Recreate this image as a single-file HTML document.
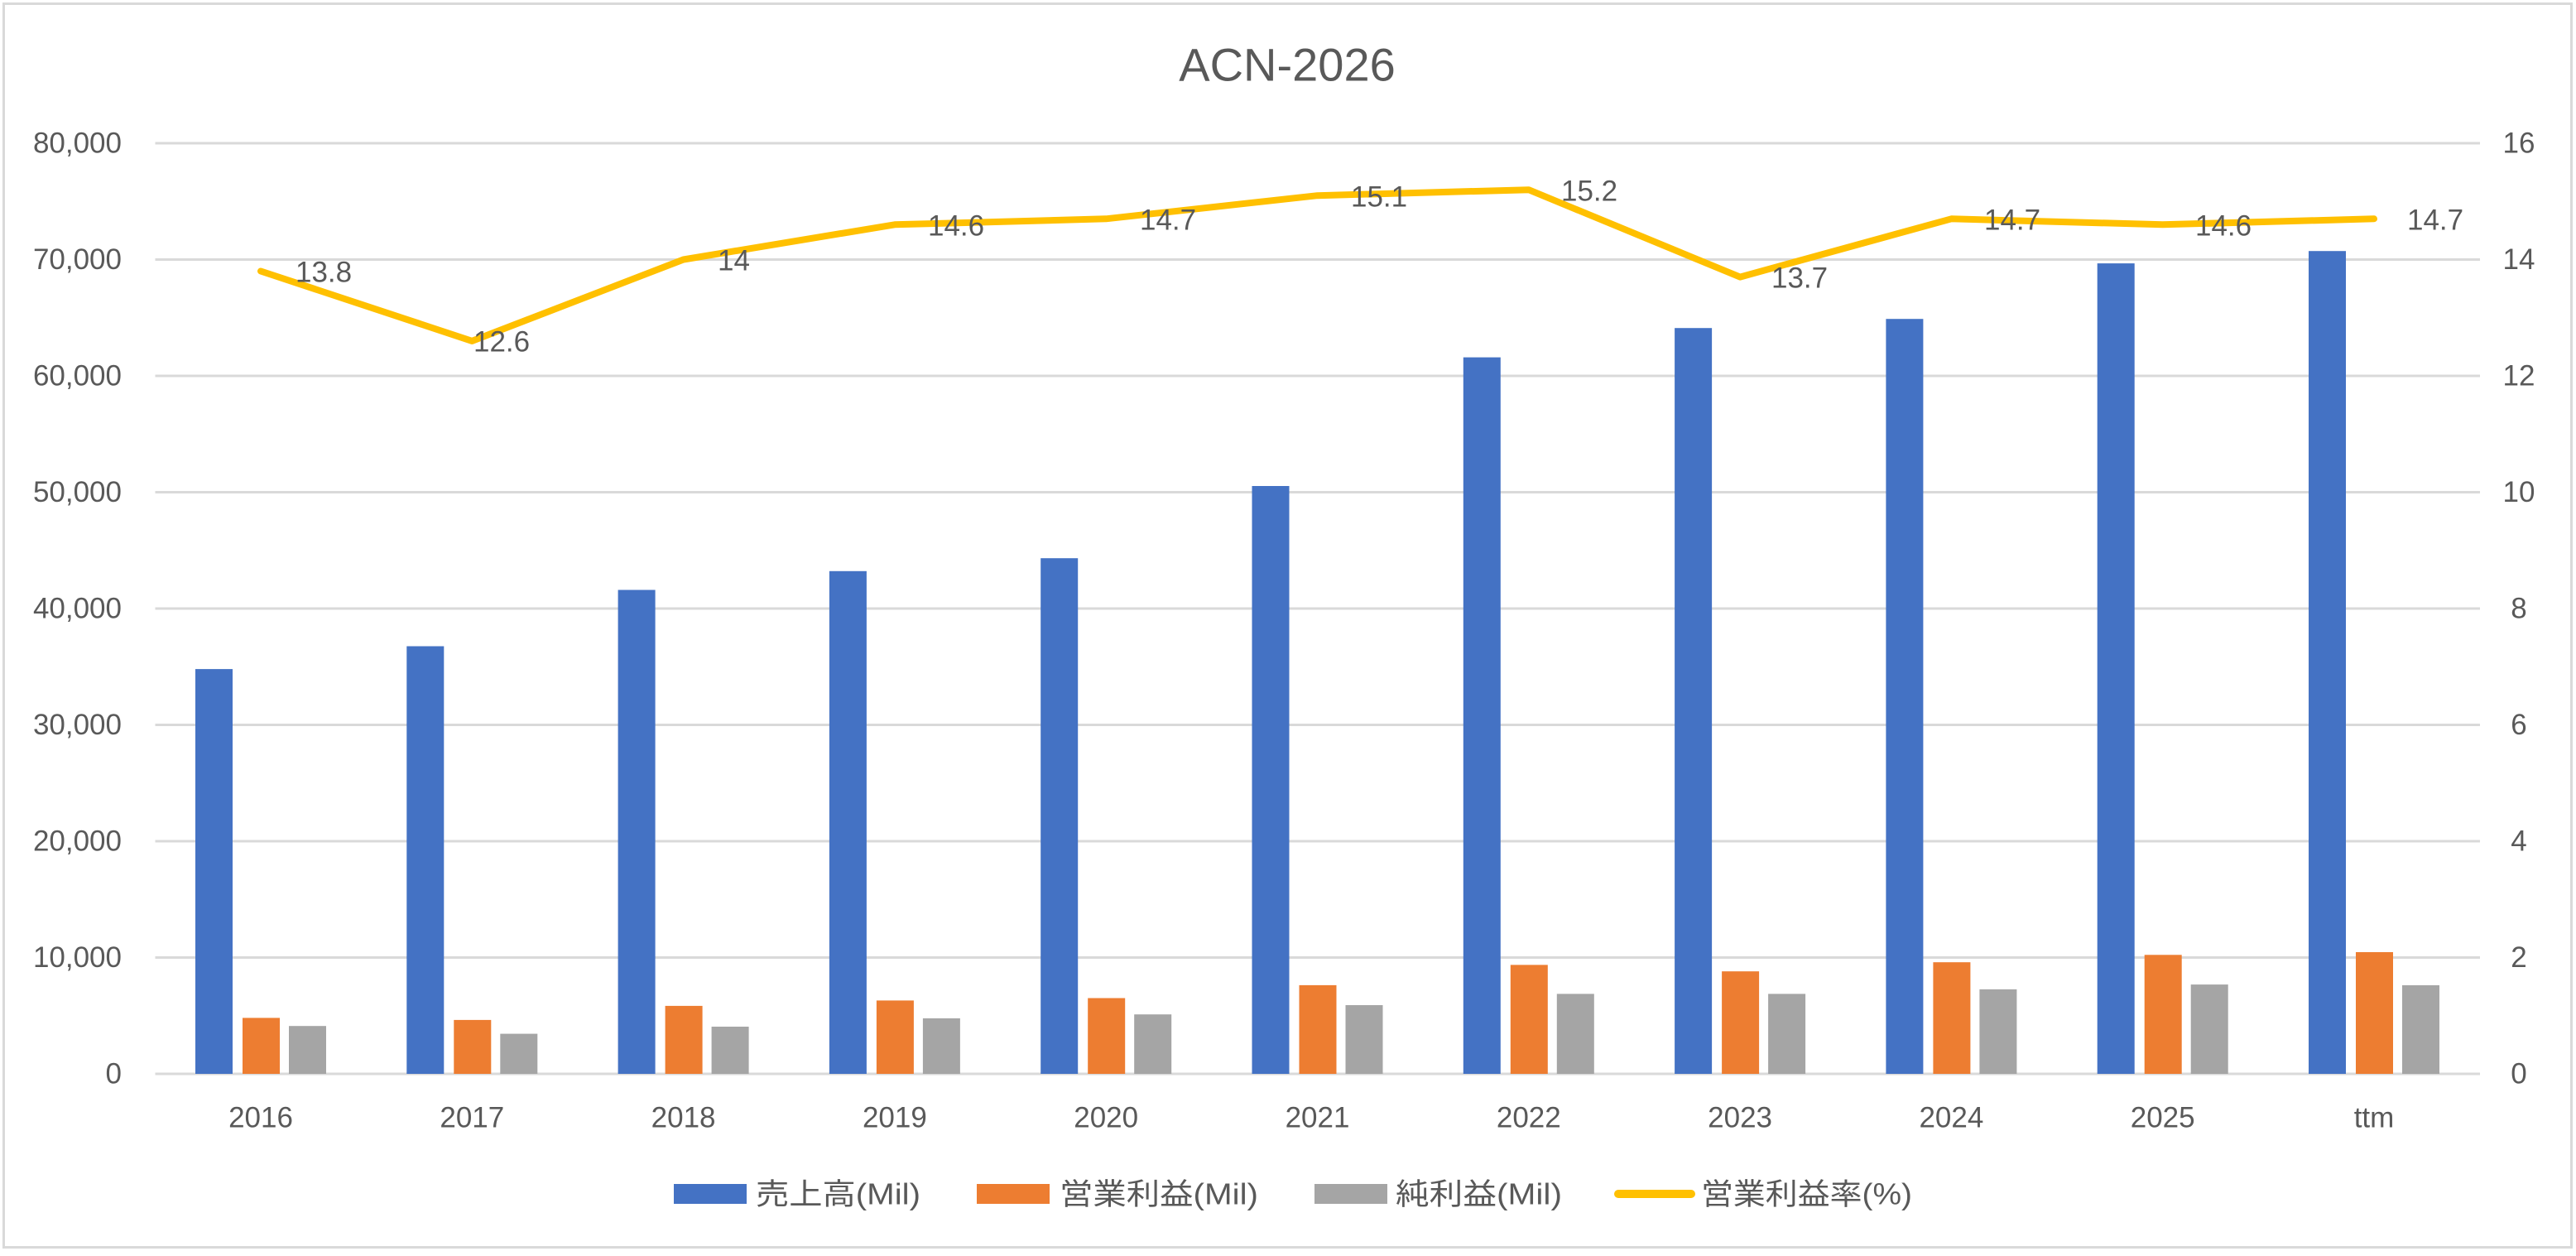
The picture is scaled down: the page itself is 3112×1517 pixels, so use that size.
<!DOCTYPE html>
<html><head><meta charset="utf-8"><style>
html,body{margin:0;padding:0;background:#fff}
svg{display:block}
text{font-family:"Liberation Sans","Noto Sans CJK JP",sans-serif;fill:#595959}
</style></head><body>
<svg width="3112" height="1517" viewBox="0 0 3112 1517" xmlns="http://www.w3.org/2000/svg">
<rect x="0" y="0" width="3112" height="1517" fill="#fff"/>
<rect x="4.5" y="4.5" width="3102" height="1502" fill="none" stroke="#d9d9d9" stroke-width="3"/>
<text x="1555" y="78" font-size="56" text-anchor="middle" dominant-baseline="central">ACN-2026</text>
<g stroke="#d9d9d9" stroke-width="3">
<line x1="187.5" x2="2996" y1="1297" y2="1297"/>
<line x1="187.5" x2="2996" y1="1156.5" y2="1156.5"/>
<line x1="187.5" x2="2996" y1="1016" y2="1016"/>
<line x1="187.5" x2="2996" y1="875.5" y2="875.5"/>
<line x1="187.5" x2="2996" y1="735" y2="735"/>
<line x1="187.5" x2="2996" y1="594.5" y2="594.5"/>
<line x1="187.5" x2="2996" y1="454" y2="454"/>
<line x1="187.5" x2="2996" y1="313.5" y2="313.5"/>
<line x1="187.5" x2="2996" y1="173" y2="173"/>
</g>
<g font-size="35" text-anchor="end" dominant-baseline="central">
<text x="147" y="1297">0</text>
<text x="147" y="1156.5">10,000</text>
<text x="147" y="1016">20,000</text>
<text x="147" y="875.5">30,000</text>
<text x="147" y="735">40,000</text>
<text x="147" y="594.5">50,000</text>
<text x="147" y="454">60,000</text>
<text x="147" y="313.5">70,000</text>
<text x="147" y="173">80,000</text>
</g>
<g font-size="35" text-anchor="middle" dominant-baseline="central">
<text x="3043" y="1297">0</text>
<text x="3043" y="1156.5">2</text>
<text x="3043" y="1016">4</text>
<text x="3043" y="875.5">6</text>
<text x="3043" y="735">8</text>
<text x="3043" y="594.5">10</text>
<text x="3043" y="454">12</text>
<text x="3043" y="313.5">14</text>
<text x="3043" y="173">16</text>
</g>
<g fill="#4472c4">
<rect x="236" y="808.1" width="45" height="488.9"/>
<rect x="491.3" y="780.5" width="45" height="516.5"/>
<rect x="746.6" y="712.5" width="45" height="584.5"/>
<rect x="1001.9" y="689.8" width="45" height="607.2"/>
<rect x="1257.2" y="674.2" width="45" height="622.8"/>
<rect x="1512.5" y="587" width="45" height="710"/>
<rect x="1767.8" y="431.6" width="45" height="865.4"/>
<rect x="2023.1" y="396.2" width="45" height="900.8"/>
<rect x="2278.4" y="385.2" width="45" height="911.8"/>
<rect x="2533.7" y="318.1" width="45" height="978.9"/>
<rect x="2789" y="303.2" width="45" height="993.8"/>
</g>
<g fill="#ed7d31">
<rect x="293" y="1229.4" width="45" height="67.6"/>
<rect x="548.3" y="1231.9" width="45" height="65.1"/>
<rect x="803.6" y="1214.9" width="45" height="82.1"/>
<rect x="1058.9" y="1208.4" width="45" height="88.6"/>
<rect x="1314.2" y="1205.5" width="45" height="91.5"/>
<rect x="1569.5" y="1189.9" width="45" height="107.1"/>
<rect x="1824.8" y="1165.4" width="45" height="131.6"/>
<rect x="2080.1" y="1173.2" width="45" height="123.8"/>
<rect x="2335.4" y="1162.2" width="45" height="134.8"/>
<rect x="2590.7" y="1153.3" width="45" height="143.7"/>
<rect x="2846" y="1150" width="45" height="147"/>
</g>
<g fill="#a5a5a5">
<rect x="349" y="1239.2" width="45" height="57.8"/>
<rect x="604.3" y="1248.6" width="45" height="48.4"/>
<rect x="859.6" y="1240" width="45" height="57"/>
<rect x="1114.9" y="1229.9" width="45" height="67.1"/>
<rect x="1370.2" y="1225.2" width="45" height="71.8"/>
<rect x="1625.5" y="1214" width="45" height="83"/>
<rect x="1880.8" y="1200.4" width="45" height="96.6"/>
<rect x="2136.1" y="1200.4" width="45" height="96.6"/>
<rect x="2391.4" y="1194.9" width="45" height="102.1"/>
<rect x="2646.7" y="1189.1" width="45" height="107.9"/>
<rect x="2902" y="1190" width="45" height="107"/>
</g>
<polyline fill="none" stroke="#ffc000" stroke-width="8" stroke-linejoin="round" stroke-linecap="round"
points="315,327.5 570.3,411.9 825.6,313.5 1080.9,271.3 1336.2,264.3 1591.5,236.2 1846.8,229.2 2102.1,334.6 2357.4,264.3 2612.7,271.3 2868,264.3"/>
<g font-size="35" dominant-baseline="central">
<text x="357" y="329" fill="#404040">13.8</text>
<text x="572" y="413" fill="#404040">12.6</text>
<text x="867" y="315" fill="#404040">14</text>
<text x="1121" y="273" fill="#404040">14.6</text>
<text x="1377" y="266" fill="#404040">14.7</text>
<text x="1632" y="238" fill="#404040">15.1</text>
<text x="1886" y="231" fill="#404040">15.2</text>
<text x="2140" y="336" fill="#404040">13.7</text>
<text x="2397" y="266" fill="#404040">14.7</text>
<text x="2652" y="273" fill="#404040">14.6</text>
<text x="2908" y="266" fill="#404040">14.7</text>
</g>
<g font-size="35" text-anchor="middle" dominant-baseline="central">
<text x="315" y="1350">2016</text>
<text x="570.3" y="1350">2017</text>
<text x="825.6" y="1350">2018</text>
<text x="1080.9" y="1350">2019</text>
<text x="1336.2" y="1350">2020</text>
<text x="1591.5" y="1350">2021</text>
<text x="1846.8" y="1350">2022</text>
<text x="2102.1" y="1350">2023</text>
<text x="2357.4" y="1350">2024</text>
<text x="2612.7" y="1350">2025</text>
<text x="2868" y="1350">ttm</text>
</g>
<rect x="814" y="1430" width="88" height="24" fill="#4472c4"/>
<rect x="1180" y="1430" width="88" height="24" fill="#ed7d31"/>
<rect x="1588" y="1430" width="88" height="24" fill="#a5a5a5"/>
<line x1="1955" x2="2043" y1="1442" y2="1442" stroke="#ffc000" stroke-width="10" stroke-linecap="round"/>
<g font-size="36" dominant-baseline="central">
<text x="913" y="1442" textLength="199" lengthAdjust="spacingAndGlyphs">売上高(Mil)</text>
<text x="1280" y="1442" textLength="240" lengthAdjust="spacingAndGlyphs">営業利益(Mil)</text>
<text x="1686" y="1442" textLength="201" lengthAdjust="spacingAndGlyphs">純利益(Mil)</text>
<text x="2055" y="1442" textLength="255" lengthAdjust="spacingAndGlyphs">営業利益率(%)</text>
</g>
</svg>
</body></html>
